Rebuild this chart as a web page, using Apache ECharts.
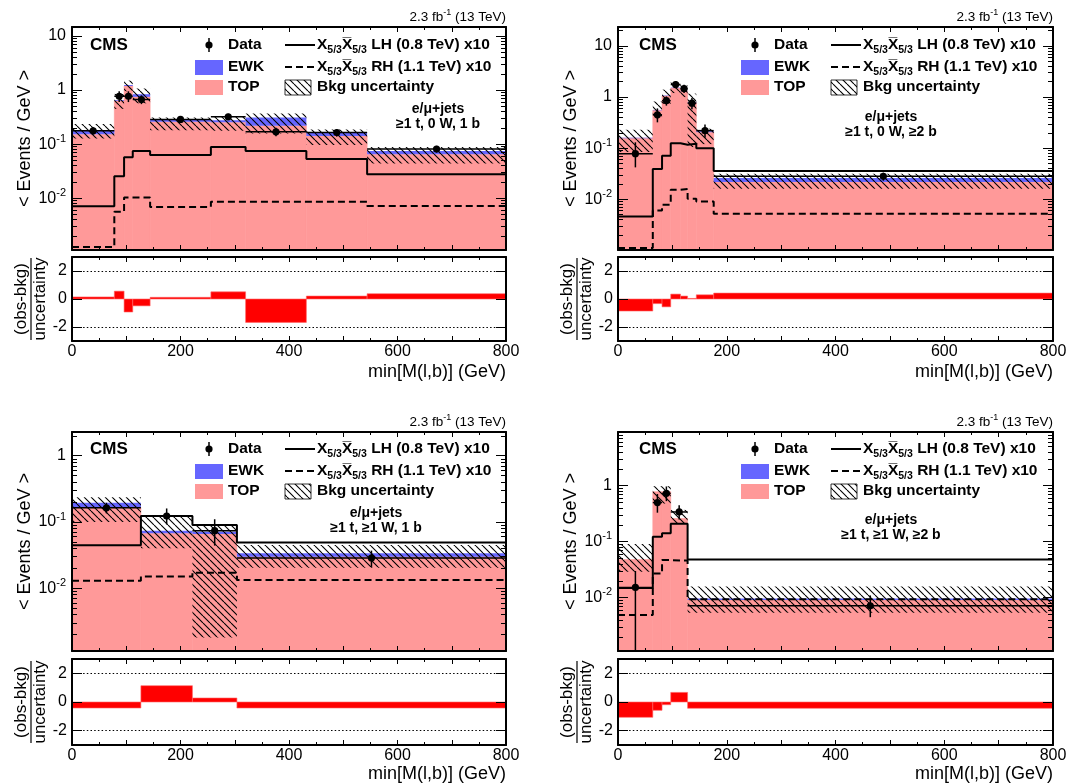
<!DOCTYPE html>
<html><head><meta charset="utf-8">
<script src="https://cdn.jsdelivr.net/npm/echarts@6/dist/echarts.min.js"></script>
<style>html,body{margin:0;padding:0;background:#fff}#c{width:1086px;height:783px}</style>
</head><body><div id="c"></div>
<script>
// ---------------- DATA ----------------
// Panel A: >=1 t, 0 W, 1 b
const edgesA  = [0, 78, 96, 112, 144, 256, 320, 432, 544, 800];
const topA    = [0.153, 0.63, 1.19, 0.75, 0.26, 0.255, 0.218, 0.141, 0.065];
const ewkA    = [0.029, 0.02, 0.05, 0.09, 0.03, 0.023, 0.092, 0.023, 0.010];
const uncLoA  = [0.127, 0.45, 0.95, 0.57, 0.18, 0.176, 0.158, 0.096, 0.044];
const uncHiA  = [0.235, 0.85, 1.5, 1.07, 0.31, 0.33, 0.37, 0.187, 0.089];
const dataA   = [0.176, 0.77, 0.77, 0.67, 0.286, 0.32, 0.169, 0.164, 0.081];
const dataLoA = [0.15, 0.6, 0.6, 0.55, 0.255, 0.28, 0.14, 0.138, 0.07];
const dataHiA = [0.205, 0.95, 0.95, 0.8, 0.32, 0.365, 0.2, 0.19, 0.093];
const lhA     = [0.0071, 0.0255, 0.057, 0.075, 0.063, 0.089, 0.075, 0.053, 0.0278];
const rhA     = [0.00125, 0.0056, 0.0103, 0.0103, 0.0069, 0.0086, 0.0086, 0.0086, 0.0072];
const pullA   = [0.15, 0.56, -0.93, -0.49, 0.12, 0.51, -1.67, 0.21, 0.38];

// Panel B: >=1 t, 0 W, >=2 b
const edgesB  = [0, 64, 81, 97, 115, 128, 144, 176, 800];
const topB    = [0.157, 0.55, 1.05, 1.5, 1.3, 0.78, 0.205, 0.0216];
const ewkB    = [0.003, 0.01, 0.02, 0.03, 0.02, 0.02, 0.01, 0.0044];
const uncLoB  = [0.084, 0.38, 0.74, 1.2, 1.0, 0.105, 0.12, 0.016];
const uncHiB  = [0.23, 0.82, 1.4, 2.0, 1.7, 1.17, 0.24, 0.0316];
const dataB   = [0.078, 0.45, 0.85, 1.76, 1.46, 0.76, 0.22, 0.028];
const dataLoB = [0.042, 0.32, 0.68, 1.5, 1.2, 0.58, 0.16, 0.023];
const dataHiB = [0.13, 0.6, 1.03, 2.05, 1.75, 0.96, 0.29, 0.033];
const lhB     = [0.0046, 0.039, 0.071, 0.125, 0.116, 0.122, 0.1, 0.0355];
const rhB     = [0.0011, 0.006, 0.0078, 0.0153, 0.0159, 0.0102, 0.009, 0.0052];
const pullB   = [-0.86, -0.33, -0.56, 0.35, 0.21, 0.04, 0.3, 0.42];

// Panel C: >=1 t, >=1 W, 1 b
const edgesC  = [0, 127, 222, 304, 800];
const topC    = [0.166, 0.0675, 0.066, 0.030];
const ewkC    = [0.029, 0.0065, 0.0054, 0.0037];
const uncLoC  = [0.1, 0.04, 0.0018, 0.0204];
const uncHiC  = [0.236, 0.123, 0.088, 0.045];
const dataC   = [0.164, 0.123, 0.074, 0.0286];
const dataLoC = [0.135, 0.092, 0.044, 0.021];
const dataHiC = [0.195, 0.16, 0.11, 0.037];
const lhC     = [0.0445, 0.123, 0.09, 0.049];
const rhC     = [0.013, 0.015, 0.0172, 0.0133];
const pullC   = [-0.42, 1.14, 0.28, -0.42];

// Panel D: >=1 t, >=1 W, >=2 b
const edgesD  = [0, 64, 81, 97, 128, 800];
const topD    = [0.048, 0.78, 0.78, 0.26, 0.0091];
const ewkD    = [0.0, 0.0, 0.0, 0.0, 0.0006];
const uncLoD  = [0.029, 0.48, 0.48, 0.21, 0.0054];
const uncHiD  = [0.091, 0.98, 0.98, 0.37, 0.0158];
const dataD   = [0.0153, 0.5, 0.73, 0.34, 0.0072];
const dataLoD = [0.0001, 0.33, 0.53, 0.25, 0.0045];
const dataHiD = [0.03, 0.71, 0.97, 0.45, 0.011];
const lhD     = [0.015, 0.123, 0.141, 0.21, 0.048];
const rhD     = [0.0049, 0.027, 0.047, 0.046, 0.0094];
const pullD   = [-1.07, -0.58, -0.19, 0.67, -0.44];

const xTickLabels = [0, 200, 400, 600, 800];
const pullTickLabels = [-2, 0, 2];
const categoryLabels = ['\u22651 t, 0 W, 1 b', '\u22651 t, 0 W, \u22652 b', '\u22651 t, \u22651 W, 1 b', '\u22651 t, \u22651 W, \u22652 b'];

// ---------------- LAYOUT ----------------
const FONT = '"Liberation Sans", Arial, Helvetica, sans-serif';
const PINK = '#ff9999', BLUE = '#6666ff', RED = '#ff0000';

const panels = [
  {L:72,  T:27,  W:434, H:223, RT:257, RH:84, ymin:0.0011,  ymax:14.7, catX:366, catY:82, legDy:0,  cmsDx:18, xTitleY:372, edges:edgesA, top:topA, ewk:ewkA, uncLo:uncLoA, uncHi:uncHiA, data:dataA, dLo:dataLoA, dHi:dataHiA, lh:lhA, rh:rhA, pull:pullA},
  {L:618, T:27,  W:435, H:223, RT:257, RH:84, ymin:0.00101, ymax:23.6, catX:273, catY:90, legDy:0,  cmsDx:21, xTitleY:372, edges:edgesB, top:topB, ewk:ewkB, uncLo:uncLoB, uncHi:uncHiB, data:dataB, dLo:dataLoB, dHi:dataHiB, lh:lhB, rh:rhB, pull:pullB},
  {L:72,  T:432, W:434, H:219, RT:659, RH:86, ymin:0.00113, ymax:2.28, catX:304, catY:81, legDy:-1, cmsDx:18, xTitleY:774, edges:edgesC, top:topC, ewk:ewkC, uncLo:uncLoC, uncHi:uncHiC, data:dataC, dLo:dataLoC, dHi:dataHiC, lh:lhC, rh:rhC, pull:pullC},
  {L:618, T:432, W:435, H:219, RT:659, RH:86, ymin:0.00112, ymax:9.1,  catX:273, catY:88, legDy:-1, cmsDx:21, xTitleY:774, edges:edgesD, top:topD, ewk:ewkD, uncLo:uncLoD, uncHi:uncHiD, data:dataD, dLo:dataLoD, dHi:dataHiD, lh:lhD, rh:rhD, pull:pullD}
];

// hatch pattern
const hatchCanvas = (function(){
  const s = 7, c = document.createElement('canvas');
  c.width = s; c.height = s;
  const g = c.getContext('2d');
  g.strokeStyle = '#000'; g.lineWidth = 1.1;
  g.beginPath();
  for (let k = -1; k <= 1; k++) { g.moveTo(k*s, 0); g.lineTo(k*s + s, s); }
  g.stroke();
  return c;
})();
const hatchFill = {image: hatchCanvas, repeat: 'repeat'};

function powersIn(min, max){ const r=[]; for(let e=-4;e<=3;e++){ const v=Math.pow(10,e); if(v>=min && v<=max) r.push(v);} return r; }
function minorsIn(min, max){ const r=[]; for(let e=-4;e<=3;e++){ for(let m=2;m<=9;m++){ const v=m*Math.pow(10,e); if(v>min && v<max) r.push(+v.toPrecision(3)); } } return r; }

const tickStyle = {color:'#000', width:1};
const lineStyle2 = {color:'#000', width:2};

const grids = [], xAxes = [], yAxes = [], series = [], graphics = [];

function xAxisDef(grid, pos, labels){
  return {type:'value', gridIndex:grid, position:pos, min:0, max:800, interval:100, z:10,
    axisLine:{show:true, onZero:false, lineStyle:lineStyle2},
    axisTick:{show:true, inside:true, length:5, lineStyle:tickStyle},
    minorTick:{show:true, splitNumber:2, length:3, lineStyle:tickStyle},
    splitLine:{show:false}, minorSplitLine:{show:false},
    axisLabel: labels ? {show:true, customValues:xTickLabels, fontSize:16, color:'#000', fontFamily:FONT, margin:3} : {show:false}};
}
function logFmt(v){
  const e = Math.round(Math.log10(v));
  if (e === 0) return '1';
  if (e === 1) return '10';
  return '{n|10}{s|' + e + '}';
}
function yLogDef(grid, pos, p, major, labels){
  return {type:'log', logBase:10, gridIndex:grid, position:pos, min:p.ymin, max:p.ymax, z:10,
    axisLine:{show:major, onZero:false, lineStyle:lineStyle2},
    axisTick:{show:true, inside:true, length: major ? 10 : 5, customValues: major ? powersIn(p.ymin,p.ymax) : minorsIn(p.ymin,p.ymax), lineStyle:tickStyle},
    minorTick:{show:false}, splitLine:{show:false}, minorSplitLine:{show:false},
    axisLabel: labels ? {show:true, customValues: powersIn(p.ymin,p.ymax), formatter: logFmt, fontSize:16, color:'#000', fontFamily:FONT, margin:6,
      rich:{ n:{fontSize:16, fontFamily:FONT, color:'#000', lineHeight:22, verticalAlign:'middle'}, s:{fontSize:11, fontFamily:FONT, color:'#000', lineHeight:11, verticalAlign:'top'} }} : {show:false}};
}
function yPullDef(grid, pos, labels){
  return {type:'value', gridIndex:grid, position:pos, min:-3, max:3, z:10,
    axisLine:{show:true, onZero:false, lineStyle:lineStyle2},
    axisTick:{show:true, inside:true, length:10, customValues:pullTickLabels, lineStyle:tickStyle},
    minorTick:{show:false}, splitLine:{show:false},
    axisLabel: labels ? {show:true, customValues:pullTickLabels, fontSize:16, color:'#000', fontFamily:FONT, margin:5} : {show:false}};
}

function rectRenderer(fill, stroke){
  return function(params, api){
    const a = api.coord([api.value(0), api.value(3)]);
    const b = api.coord([api.value(1), api.value(2)]);
    return {type:'rect', shape:{x:a[0], y:Math.min(a[1],b[1]), width:b[0]-a[0], height:Math.abs(b[1]-a[1])},
      style: stroke ? {fill:fill, stroke:stroke, lineWidth:0.6} : {fill:fill}};
  };
}
function dataRenderer(params, api){
  const c  = api.coord([api.value(0), api.value(1)]);
  const lo = api.coord([api.value(0), api.value(2)]);
  const hi = api.coord([api.value(0), api.value(3)]);
  const l  = api.coord([api.value(4), api.value(1)]);
  const r  = api.coord([api.value(5), api.value(1)]);
  return {type:'group', children:[
    {type:'line', shape:{x1:c[0], y1:lo[1], x2:c[0], y2:hi[1]}, style:{stroke:'#000', lineWidth:1.5}},
    {type:'line', shape:{x1:l[0], y1:c[1], x2:r[0], y2:c[1]}, style:{stroke:'#000', lineWidth:1.5}},
    {type:'circle', shape:{cx:c[0], cy:c[1], r:3.6}, style:{fill:'#000'}}
  ]};
}

function txt(text, x, y, o){
  return {type:'text', x:x, y:y, z:100, style:Object.assign({text:text, fill:'#000', fontFamily:FONT, fontSize:15.5, fontWeight:'bold', align:'left', verticalAlign:'middle'}, o||{})};
}
const sigRich = {
  m:{fontSize:15.5, fontWeight:'bold', fontFamily:FONT, color:'#000', lineHeight:22, verticalAlign:'middle'},
  s:{fontSize:10.5, fontWeight:'bold', fontFamily:FONT, color:'#000', lineHeight:10, verticalAlign:'bottom'}
};

panels.forEach(function(p, i){
  const gm = 2*i, gr = 2*i+1;
  grids.push({left:p.L, top:p.T, width:p.W, height:p.H, containLabel:false, show:false, outerBoundsMode:'none'});
  grids.push({left:p.L, top:p.RT, width:p.W, height:p.RH, containLabel:false, show:false, outerBoundsMode:'none'});
  xAxes.push(xAxisDef(gm,'bottom',false), xAxisDef(gm,'top',false), xAxisDef(gr,'bottom',true), xAxisDef(gr,'top',false));
  yAxes.push(yLogDef(gm,'left',p,true,true), yLogDef(gm,'left',p,false,false), yLogDef(gm,'right',p,true,false), yLogDef(gm,'right',p,false,false),
             yPullDef(gr,'left',true), yPullDef(gr,'right',false));
  const xm = 4*i, xr = 4*i+2, ym = 6*i, yr = 6*i+4;
  const n = p.edges.length - 1;
  const bins = Array.from({length:n}, (_, k) => k);
  const topRows  = bins.map(k => [p.edges[k], p.edges[k+1], p.ymin, p.top[k]]);
  const ewkRows  = bins.map(k => [p.edges[k], p.edges[k+1], p.top[k], p.top[k] + p.ewk[k]]);
  const uncRows  = bins.map(k => [p.edges[k], p.edges[k+1], p.uncLo[k], p.uncHi[k]]);
  const dataRows = bins.map(k => [(p.edges[k]+p.edges[k+1])/2, p.data[k], p.dLo[k], p.dHi[k], p.edges[k], p.edges[k+1]]);
  const pullRows = bins.map(k => [p.edges[k], p.edges[k+1], 0, p.pull[k]]);
  const step = vals => p.edges.map((e, k) => [e, vals[Math.min(k, n-1)]]);
  const common = {xAxisIndex:xm, yAxisIndex:ym, clip:true, silent:true, animation:false};
  series.push(Object.assign({type:'custom', name:'TOP', z:2, data:topRows, encode:{x:[0,1], y:[2,3]}, renderItem:rectRenderer(PINK, PINK)}, common));
  series.push(Object.assign({type:'custom', name:'EWK', z:2, data:ewkRows, encode:{x:[0,1], y:[2,3]}, renderItem:rectRenderer(BLUE)}, common));
  series.push(Object.assign({type:'custom', name:'Bkg uncertainty', z:3, data:uncRows, encode:{x:[0,1], y:[2,3]}, renderItem:rectRenderer(hatchFill)}, common));
  series.push(Object.assign({type:'line', name:'LH', z:4, step:'end', showSymbol:false, symbol:'none', data:step(p.lh), lineStyle:{color:'#000', width:2}}, common));
  series.push(Object.assign({type:'line', name:'RH', z:4, step:'end', showSymbol:false, symbol:'none', data:step(p.rh), lineStyle:{color:'#000', width:2, type:[7,4]}}, common));
  series.push(Object.assign({type:'custom', name:'Data', z:5, data:dataRows, encode:{x:0, y:[1,2,3]}, renderItem:dataRenderer}, common));
  series.push({type:'custom', name:'pull', xAxisIndex:xr, yAxisIndex:yr, clip:true, silent:true, animation:false, z:2,
    data:pullRows, encode:{x:[0,1], y:[2,3]}, renderItem:rectRenderer(RED, '#ff6666'),
    markLine:{silent:true, symbol:['none','none'], animation:false, label:{show:false},
      lineStyle:{color:'#000', width:1, type:[1.5,2.2]}, data:[{yAxis:2},{yAxis:-2}]}});

  // ---- text & legend ----
  const L = p.L, T = p.T, d = p.legDy;
  graphics.push(txt('CMS', L+p.cmsDx, T+18+d, {fontSize:17}));
  graphics.push({type:'line', z:100, shape:{x1:L+137, y1:T+11+d, x2:L+137, y2:T+25+d}, style:{stroke:'#000', lineWidth:1.5}});
  graphics.push({type:'circle', z:100, shape:{cx:L+137, cy:T+18+d, r:3.6}, style:{fill:'#000'}});
  graphics.push(txt('Data', L+156, T+18+d));
  graphics.push({type:'rect', z:100, shape:{x:L+123, y:T+33+d, width:28, height:15}, style:{fill:BLUE}});
  graphics.push(txt('EWK', L+156, T+40+d));
  graphics.push({type:'rect', z:100, shape:{x:L+123, y:T+53+d, width:28, height:15}, style:{fill:PINK}});
  graphics.push(txt('TOP', L+156, T+60+d));
  graphics.push({type:'line', z:100, shape:{x1:L+213, y1:T+18+d, x2:L+243, y2:T+18+d}, style:{stroke:'#000', lineWidth:2}});
  graphics.push(txt('{m|X}{s|5/3}{m|X\u0305}{s|5/3}{m| LH (0.8 TeV) x10}', L+245, T+18+d, {rich:sigRich}));
  graphics.push({type:'line', z:100, shape:{x1:L+213, y1:T+40+d, x2:L+243, y2:T+40+d}, style:{stroke:'#000', lineWidth:2, lineDash:[7,4]}});
  graphics.push(txt('{m|X}{s|5/3}{m|X\u0305}{s|5/3}{m| RH (1.1 TeV) x10}', L+245, T+40+d, {rich:sigRich}));
  graphics.push({type:'rect', z:100, shape:{x:L+213, y:T+53+d, width:26, height:15}, style:{fill:hatchFill, stroke:'#000', lineWidth:0.8}});
  graphics.push(txt('Bkg uncertainty', L+245, T+60+d));
  graphics.push(txt('e/\u03bc+jets', L+p.catX, T+p.catY, {fontSize:14, align:'center'}));
  graphics.push(txt(categoryLabels[i], L+p.catX, T+p.catY+15, {fontSize:14, align:'center'}));
  graphics.push(txt('{n|2.3 fb}{s|-1}{n| (13 TeV)}', L+p.W, T-10, {fontWeight:'normal', align:'right',
    rich:{n:{fontSize:13.5, fontFamily:FONT, color:'#000', lineHeight:18, verticalAlign:'middle'}, s:{fontSize:9, fontFamily:FONT, color:'#000', lineHeight:9, verticalAlign:'top'}}}));
  graphics.push({type:'text', z:100, x:L-47, y:T+p.H/2, rotation:Math.PI/2,
    style:{text:'< Events / GeV >', fill:'#000', fontFamily:FONT, fontSize:18, align:'center', verticalAlign:'middle'}});
  graphics.push({type:'group', z:100, x:L-41, y:p.RT+p.RH/2, rotation:Math.PI/2, children:[
    {type:'text', x:0, y:-10, style:{text:'(obs-bkg)', fill:'#000', fontFamily:FONT, fontSize:17, align:'center', verticalAlign:'middle'}},
    {type:'line', shape:{x1:-41, y1:0, x2:41, y2:0}, style:{stroke:'#000', lineWidth:1.2}},
    {type:'text', x:0, y:9, style:{text:'uncertainty', fill:'#000', fontFamily:FONT, fontSize:17, align:'center', verticalAlign:'middle'}}
  ]});
  graphics.push({type:'text', z:100, x:L+p.W, y:p.xTitleY, style:{text:'min[M(l,b)] (GeV)', fill:'#000', fontFamily:FONT, fontSize:18, align:'right', verticalAlign:'middle'}});
});

const chart = echarts.init(document.getElementById('c'), null, {renderer:'canvas'});
chart.setOption({
  animation:false,
  backgroundColor:'#fff',
  textStyle:{fontFamily:FONT},
  grid:grids, xAxis:xAxes, yAxis:yAxes, series:series,
  graphic:{elements:graphics}
});
</script></body></html>
